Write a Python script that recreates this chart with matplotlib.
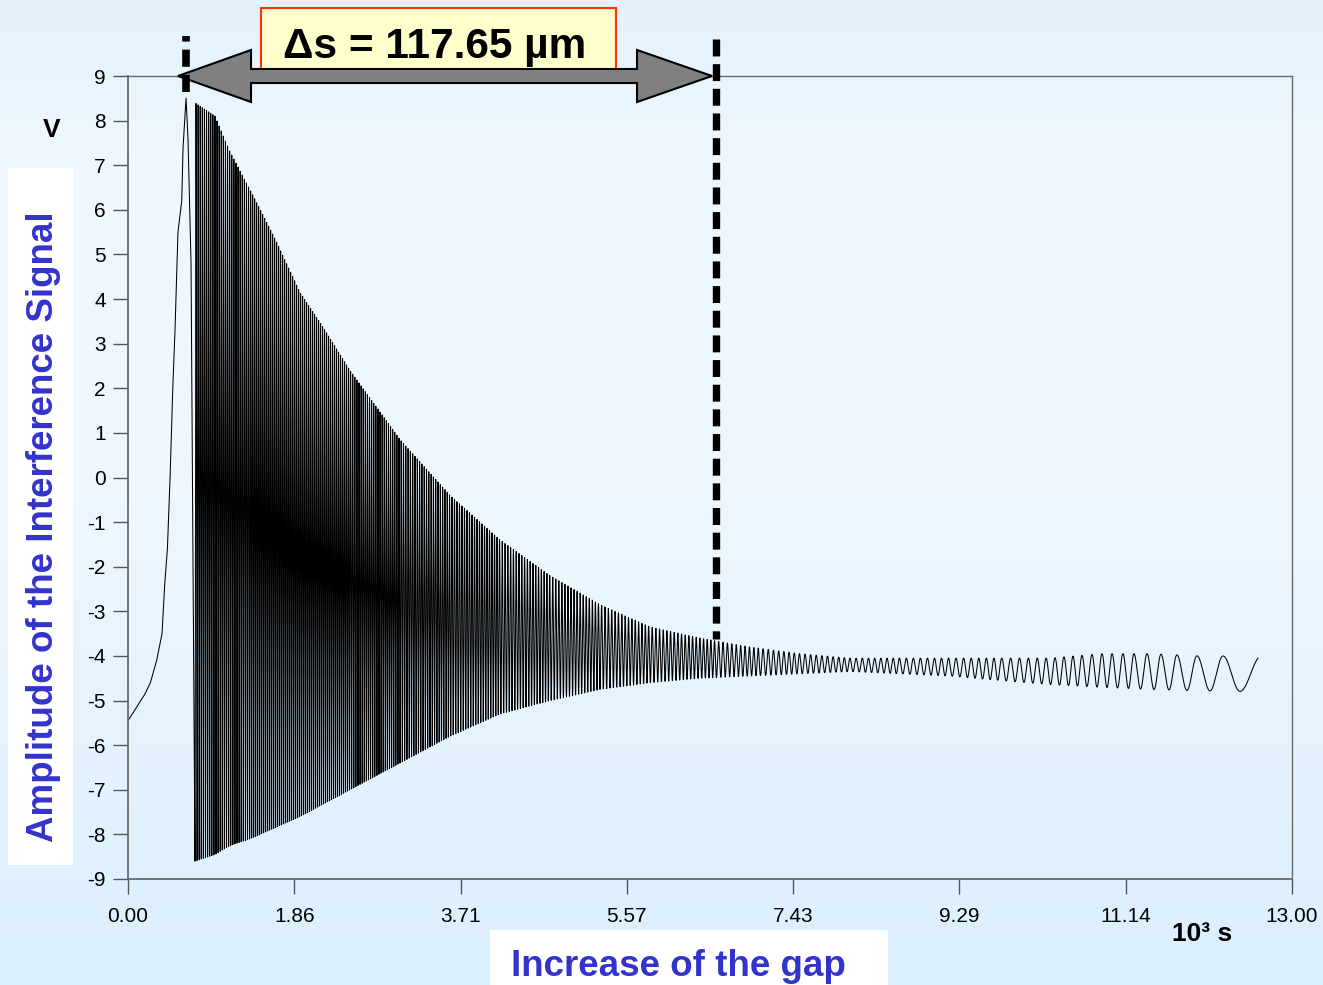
import numpy as np
import matplotlib
matplotlib.use("Agg")
import matplotlib.pyplot as plt
from matplotlib.patches import Polygon, Rectangle
from matplotlib.colors import LinearSegmentedColormap

plt.rcParams['font.family'] = ['Liberation Sans', 'DejaVu Sans']
plt.rcParams['axes.unicode_minus'] = False

# ---- data (x in 10^3 s, y in V) ----
# slow rise up to the first maximum and the first fall
rise_x = [0.00, 0.08, 0.19, 0.25, 0.32, 0.38, 0.41, 0.44, 0.47, 0.50, 0.525, 0.558, 0.60, 0.615, 0.648, 0.67, 0.704, 0.726, 0.748]
rise_y = [-5.45, -5.20, -4.85, -4.60, -4.10, -3.50, -2.40, -1.60, 0.00, 2.00, 3.30, 5.50, 6.20, 7.40, 8.50, 7.60, 4.80, -2.00, -8.60]

# envelope of the fringes after the first minimum
env_x = [0.748, 0.972, 1.139, 1.363, 1.642, 1.921, 2.200, 2.479, 3.038, 3.596, 4.155, 4.713, 5.271,
         5.830, 6.388, 6.947, 7.505, 8.063, 8.622, 9.180, 9.739, 10.297, 10.855, 11.414, 11.972, 12.620]
env_upper = [8.40, 8.10, 7.30, 6.45, 5.35, 4.15, 3.30, 2.40, 0.85, -0.40, -1.40, -2.20, -2.85,
             -3.35, -3.60, -3.80, -3.95, -4.05, -4.05, -4.05, -4.05, -4.05, -3.95, -3.95, -4.00, -4.00]
env_lower = [-8.60, -8.45, -8.25, -8.10, -7.85, -7.60, -7.30, -7.00, -6.40, -5.80, -5.30, -5.00, -4.75,
             -4.60, -4.50, -4.45, -4.40, -4.35, -4.40, -4.45, -4.55, -4.64, -4.70, -4.75, -4.78, -4.80]

# fringe order (maxima = whole numbers) at positions along the trace
fringe_x = [0.748, 1.363, 1.921, 2.479, 3.038, 3.596, 4.155, 4.713, 5.271, 5.830, 6.567, 7.058,
            7.505, 8.063, 8.622, 9.180, 9.739, 10.353, 10.453, 10.554, 10.654, 10.766, 10.878,
            10.990, 11.112, 11.235, 11.381, 11.537, 11.715, 11.939, 12.229, 12.419, 12.620]
fringe_n = [0.5, 26.7, 51.7, 76.7, 100.5, 122.2, 142.2, 160.1, 176.5, 191.4, 209.4, 219.4,
            227.1, 236.0, 244.1, 251.2, 257.8, 264, 265, 266, 267, 268, 269,
            270, 271, 272, 273, 274, 275, 276, 277, 277.5, 277.92]

xtick_vals = [0.0, 13 / 7, 26 / 7, 39 / 7, 52 / 7, 65 / 7, 78 / 7, 13.0]
xtick_labels = ['0.00', '1.86', '3.71', '5.57', '7.43', '9.29', '11.14', '13.00']
ytick_vals = list(range(-9, 10))

marker_left = 0.648
marker_right = 6.567

# ---- build the fringe trace ----
xf = np.linspace(fringe_x[0], fringe_x[-1], 80000)
phase = np.interp(xf, fringe_x, fringe_n)
up = np.interp(xf, env_x, env_upper)
lo = np.interp(xf, env_x, env_lower)
yf = (up + lo) / 2 + (up - lo) / 2 * np.cos(2 * np.pi * phase)

x_all = np.concatenate([rise_x[:-1], xf])
y_all = np.concatenate([rise_y[:-1], yf])

# ---- figure ----
W, H = 1323, 985
fig = plt.figure(figsize=(W / 100, H / 100), dpi=100)

bg = fig.add_axes([0, 0, 1, 1], zorder=-10)
cmap = LinearSegmentedColormap.from_list('bg', [(0, '#dbeffe'), (0.55, '#f0f8ff'), (0.85, '#eef7fe'), (1, '#e3f2fd')])
bg.imshow(np.linspace(0, 1, 256).reshape(-1, 1), aspect='auto', cmap=cmap, extent=[0, 1, 0, 1], origin='lower')
bg.axis('off')

ax = fig.add_axes([128 / W, 1 - 879 / H, (1292 - 128) / W, (879 - 76) / H])
ax.patch.set_alpha(0)
ax.plot(x_all, y_all, color='black', lw=0.75)

ax.set_xlim(0, 13)
ax.set_ylim(-9, 9)
ax.set_xticks(xtick_vals)
ax.set_xticklabels(xtick_labels)
ax.set_yticks(ytick_vals)
ax.tick_params(direction='out', length=11, width=1, color='#555555', labelsize=15)
ax.tick_params(axis='y', pad=5)
ax.tick_params(axis='x', pad=9)
for s in ax.spines.values():
    s.set_color('#6a6a6a')
    s.set_linewidth(1.0)
ax.spines['left'].set_linewidth(1.3)
ax.spines['bottom'].set_linewidth(1.3)

# annotation box with the double arrow
ax.add_patch(Rectangle((1.485, 9.0), 3.965, 1.52, fc='#ffffcc', ec='#ff3300', lw=1.5,
                       clip_on=False, zorder=3))
lt, lb, rb, rt = 0.558, 1.374, 5.685, 6.522
yc, hh, sh = 9.0, 0.583, 0.157
arrow = [(lt, yc), (lb, yc + hh), (lb, yc + sh), (rb, yc + sh), (rb, yc + hh), (rt, yc),
         (rb, yc - hh), (rb, yc - sh), (lb, yc - sh), (lb, yc - hh)]
ax.add_patch(Polygon(arrow, closed=True, fc='#808080', ec='black', lw=1.5, clip_on=False, zorder=4))
ax.text(3.43, 9.40, 'Δs = 117.65 µm', ha='center', va='baseline', fontsize=30.5,
        fontweight='bold', zorder=6, clip_on=False)

# dashed markers (left one drawn upward so its top dash is cut short)
ax.plot([marker_left, marker_left], [8.64, 9.90], color='black', lw=5.5, dashes=(2.25, 1.05),
        dash_capstyle='butt', clip_on=False, zorder=5)
ax.plot([marker_right, marker_right], [9.83, -3.61], color='black', lw=5.3, dashes=(2.3, 1.05),
        dash_capstyle='butt', clip_on=False, zorder=5)

# axis labels in white boxes
fig.patches.append(Rectangle((8 / W, 1 - 865 / H), 65 / W, (865 - 168) / H, transform=fig.transFigure,
                             fc='white', ec='none', zorder=1))
fig.text(44 / W, 1 - 527 / H, 'Amplitude of the Interference Signal', rotation=90, ha='center',
         va='center', fontsize=26.5, fontweight='bold', color='#3333cc')
fig.patches.append(Rectangle((490 / W, 0), 398 / W, (985 - 930) / H, transform=fig.transFigure,
                             fc='white', ec='none', zorder=1))
fig.text(678 / W, 9 / H, 'Increase of the gap', ha='center', va='baseline', fontsize=26.5,
         fontweight='bold', color='#3333cc')

fig.text(52 / W, 1 - 137 / H, 'V', ha='center', va='baseline', fontsize=19, fontweight='bold')
fig.text(1172 / W, 1 - 941 / H, '10³ s', ha='left', va='baseline', fontsize=19, fontweight='bold')

fig.savefig('out.png', dpi=100)
